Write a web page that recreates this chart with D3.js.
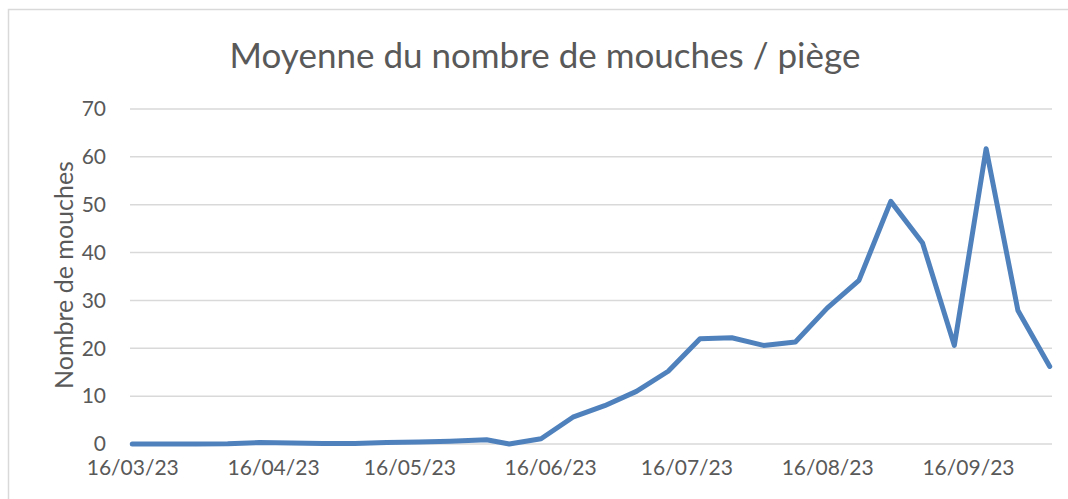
<!DOCTYPE html>
<html><head><meta charset="utf-8">
<script src="https://cdn.jsdelivr.net/npm/d3@7"></script>
<style>
html,body{margin:0;padding:0;background:#fff;}
svg{display:block;}
</style></head>
<body>
<svg id="chart" width="1068" height="499"></svg>
<script>
const dates = ["2023-03-16","2023-03-23","2023-03-30","2023-04-06","2023-04-13","2023-04-20","2023-04-27",
  "2023-05-04","2023-05-11","2023-05-18","2023-05-25","2023-06-02","2023-06-07","2023-06-14",
  "2023-06-21","2023-06-28","2023-07-05","2023-07-12","2023-07-19","2023-07-26","2023-08-02",
  "2023-08-09","2023-08-16","2023-08-23","2023-08-30","2023-09-06","2023-09-13","2023-09-20",
  "2023-09-27","2023-10-04"];
const values = [0,0,0,0.05,0.3,0.2,0.1,0.1,0.3,0.4,0.6,0.9,0,1.1,
  5.6,8,11,15.2,22,22.2,20.6,21.3,28.4,34.2,50.7,42,20.6,61.7,27.9,16.2];
const yTicks = [0,10,20,30,40,50,60,70];
const xTickLabels = ["16/03/23","16/04/23","16/05/23","16/06/23","16/07/23","16/08/23","16/09/23"];
const title = "Moyenne du nombre de mouches / piège";
const yTitle = "Nombre de mouches";

const parse = d3.timeParse("%Y-%m-%d");
const parseLbl = d3.timeParse("%d/%m/%y");
const pts = dates.map((d,i)=>({date:parse(d), v:values[i]}));
const DAY = 86400000;
const x = d3.scaleTime()
  .domain([new Date(pts[0].date.getTime()-DAY/2), new Date(pts[pts.length-1].date.getTime()+DAY/2)])
  .range([130,1052]);
const y = d3.scaleLinear().domain([0,70]).range([444,109]);

const svg = d3.select("#chart");
const font = "Lato, 'Open Sans', sans-serif";
const grey = "#595959";

svg.append("rect").attr("x",8.5).attr("y",9.5).attr("width",1080).attr("height",520)
  .attr("fill","#fff").attr("stroke","#d9d9d9").attr("stroke-width",1.5);

// gridlines
svg.append("g").selectAll("line").data(yTicks).join("line")
  .attr("x1",130).attr("x2",1052)
  .attr("y1",d=>y(d)).attr("y2",d=>y(d))
  .attr("stroke","#d9d9d9").attr("stroke-width",1.5);

// y axis labels
const yAxis = d3.axisLeft(y).tickValues(yTicks).tickSize(0).tickPadding(0);
const gy = svg.append("g").attr("transform","translate(106,0)").call(yAxis);
gy.select(".domain").remove();
gy.selectAll("text").attr("font-family",font).attr("font-size",21).attr("fill",grey);

// x axis labels
const xAxis = d3.axisBottom(x).tickValues(xTickLabels.map(parseLbl))
  .tickFormat(d3.timeFormat("%d/%m/%y")).tickSize(0).tickPadding(0);
const gx = svg.append("g").attr("transform","translate(0,460)").call(xAxis);
gx.select(".domain").remove();
gx.selectAll("text").attr("font-family",font).attr("font-size",21).attr("fill",grey).attr("dy","0.71em");

// line
const line = d3.line().x(d=>x(d.date)).y(d=>y(d.v));
svg.append("path").datum(pts).attr("d",line)
  .attr("fill","none").attr("stroke","#4F81BD").attr("stroke-width",5)
  .attr("stroke-linejoin","round").attr("stroke-linecap","round");

// titles
svg.append("text").attr("x",545).attr("y",68).attr("text-anchor","middle")
  .attr("font-family",font).attr("font-size",35).attr("fill",grey).text(title);
svg.append("text").attr("transform","translate(73,275) rotate(-90)").attr("text-anchor","middle")
  .attr("font-family",font).attr("font-size",25).attr("fill",grey).text(yTitle);
</script>
</body></html>
